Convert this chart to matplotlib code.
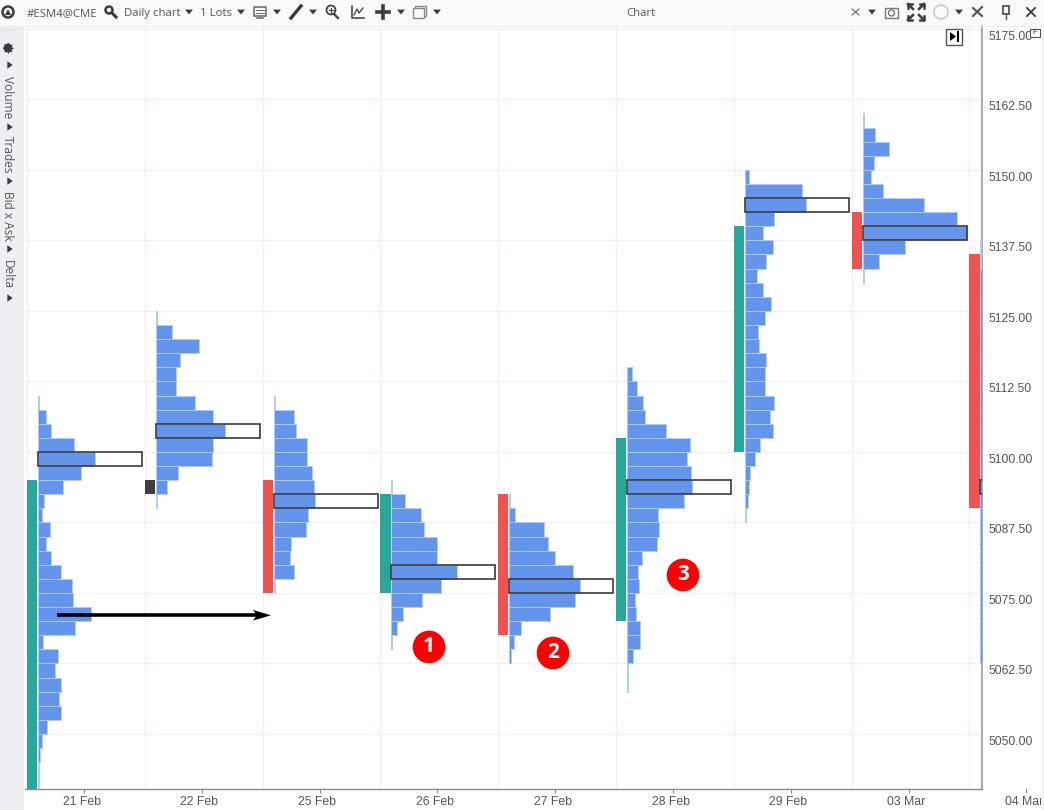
import matplotlib
matplotlib.use("Agg")
import matplotlib.pyplot as plt
from matplotlib.patches import Rectangle, Circle, Polygon
from matplotlib.transforms import Affine2D

plt.rcParams['font.family'] = ['Liberation Sans', 'DejaVu Sans']

day_labels = ["21 Feb", "22 Feb", "25 Feb", "26 Feb", "27 Feb", "28 Feb", "29 Feb", "03 Mar"]
last_label = "04 Mar"
opens = [5035, 5092.5, 5095, 5075, 5092.5, 5070, 5100, 5142.5, 5135]
closes = [5095, 5095, 5075, 5092.5, 5067.5, 5102.5, 5140, 5132.5, 5090]
price_ticks = [5050, 5062.5, 5075, 5087.5, 5100, 5112.5, 5125, 5137.5, 5150, 5162.5, 5175]

profile_tops = [5110, 5125, 5110, 5095, 5092.5, 5115, 5150, 5160, 5137.5]
poc_prices = [5097.5, 5102.5, 5090, 5077.5, 5075, 5092.5, 5142.5, 5137.5, 5092.5]

vol_21feb = [1, 8, 13, 36, 57, 43, 25, 6, 4, 12, 8, 13, 23, 34, 35, 53, 37, 5, 20, 17, 23, 21, 23, 9, 4, 1.5, 1, 1]
vol_22feb = [1, 16, 43, 24, 20, 20, 39, 57, 69, 57, 56, 22, 11, 1]
vol_25feb = [1, 20, 22, 33, 33, 38, 40, 41, 34, 32, 17, 16, 20, 1]
vol_26feb = [1, 14, 30, 33, 46, 46, 66, 50, 31, 12, 6, 1]
vol_27feb = [1, 6, 35, 39, 46, 64, 71, 66, 41, 12, 5, 1.5]
vol_28feb = [5, 10, 16, 18, 39, 63, 60, 64, 65, 57, 31, 32, 30, 15, 11, 12, 8, 9, 13, 13, 6, 1, 1]
vol_29feb = [4, 57, 61, 29, 18, 28, 21, 12, 18, 26, 20, 13, 14, 21, 20, 20, 29, 25, 28, 15, 10, 5, 4, 3, 1]
vol_03mar = [1, 12, 26, 11, 8, 20, 61, 94, 104, 42, 16, 1]
# 04 Mar is cut off by the price axis, only the first pixels are visible
vol_04mar = [1, 1, 20, 20, 30, 35, 45, 50, 70, 60, 40, 35, 30, 30, 25, 20, 20, 20, 15, 15, 10, 10, 8, 8, 5, 5, 3, 3, 3, 3]
profiles = [vol_21feb, vol_22feb, vol_25feb, vol_26feb, vol_27feb, vol_28feb, vol_29feb, vol_03mar, vol_04mar]

UP = "#2aa79b"
DOWN = "#ef5350"
DOJI = "#3d3d3b"
BLUE = "#6495ed"
EDGE = "#b3ccf6"
GRID = "#f6eef1"
TXT = "#555555"
ICON = "#3c3c3c"
TICK_SIZE = 2.5
DAY_PX = 117.8
BOX = 104
W, H = 1044, 810

fig = plt.figure(figsize=(W / 100, H / 100), dpi=100, facecolor="white")

# chart area
ax = fig.add_axes([25 / W, 1 - 789 / H, (982 - 25) / W, (789 - 26) / H])
for s in ["top", "left"]:
    ax.spines[s].set_visible(False)
ax.spines["right"].set_color("#a9a9b2")
ax.spines["right"].set_linewidth(1.5)
ax.spines["bottom"].set_color("#8c8c92")
ax.spines["bottom"].set_linewidth(1)

ax.set_yticks(price_ticks)
ax.set_yticklabels(["%.2f" % p for p in price_ticks], va="top", fontsize=8.8, color=TXT)
ax.yaxis.tick_right()
ax.tick_params(axis="y", length=0, pad=5)
for lab in ax.get_yticklabels():
    lab.set_transform(lab.get_transform() + Affine2D().translate(0, -2))
ax.set_xticks([i + 0.484 for i in range(len(day_labels))])
ax.set_xticklabels(day_labels, fontsize=8.8, color=TXT)
ax.tick_params(axis="x", length=3, color="#888888", pad=2)
for lab in ax.get_xticklabels():
    lab.set_transform(lab.get_transform() + Affine2D().translate(-2.5, 0))
ax.set_xlim(-2 / DAY_PX, 955 / DAY_PX)
ax.set_ylim(5040.25, 5175.5)
for i in range(len(profiles)):
    ax.axvline(i, color=GRID, lw=1, zorder=0)
for p in price_ticks:
    ax.axhline(p, color=GRID, lw=1, zorder=0)

# 04 Mar tick hangs past the axis end on the right
x_last = len(day_labels) + 0.484
ax.plot([x_last, x_last], [0, -3 / 763], transform=ax.get_xaxis_transform(), color="#888888", lw=0.8, clip_on=False)
ax.text(x_last - 0.02, -13 / 763, last_label, transform=ax.get_xaxis_transform(), fontsize=8.8, color=TXT,
        ha="center", va="center", clip_on=False)
ax.set_xlim(-2 / DAY_PX, 955 / DAY_PX)

for i, vols in enumerate(profiles):
    # candle body
    o, c = opens[i], closes[i]
    col = DOJI if i == 1 else (UP if c > o else DOWN)
    ax.add_patch(Rectangle((i, min(o, c)), 10.3 / DAY_PX, abs(c - o), fc=col, ec="none", zorder=2))

    # volume profile next to it
    x0 = i + 11 / DAY_PX
    bottoms = [profile_tops[i] - TICK_SIZE * (k + 1) for k in range(len(vols))]
    ax.barh(poc_prices[i], BOX / DAY_PX, TICK_SIZE, left=x0, align="edge", color="white", zorder=3)
    ax.barh(bottoms, [v / DAY_PX for v in vols], TICK_SIZE, left=x0, align="edge",
            color=BLUE, edgecolor=EDGE, linewidth=0.6, zorder=4)
    ax.barh(poc_prices[i], BOX / DAY_PX, TICK_SIZE, left=x0, align="edge", fill=False,
            edgecolor="#3a3a3a", linewidth=1.2, zorder=5)

# window chrome, drawn in pixel coordinates on top
ov = fig.add_axes([0, 0, 1, 1], facecolor="none")
ov.set_xlim(0, W)
ov.set_ylim(H, 0)
ov.axis("off")
ov.add_patch(Rectangle((0, 0), W, 25, fc="#f9f9fb", ec="none"))
ov.plot([0, W], [25.5, 25.5], color="#efeff2", lw=1)
ov.add_patch(Rectangle((0, 26), 24, H - 26, fc="#eeeef3", ec="none"))
ov.add_patch(Rectangle((1041, 26), 3, H - 26, fc="#f4f4f7", ec="none"))

for x, s in [(27, "#ESM4@CME"), (124, "Daily chart"), (200, "1 Lots")]:
    ov.text(x, 16, s, fontsize=8.2, color=TXT, va="baseline", ha="left", family="Open Sans")
ov.text(641, 16, "Chart", fontsize=8.2, color=TXT, va="baseline", ha="center", family="Open Sans")


def tri(x, y, s=4, color=ICON, right=False):
    if right:
        pts = [(x - s * 0.7, y - s), (x - s * 0.7, y + s), (x + s * 0.7, y)]
    else:
        pts = [(x - s, y - s * 0.6), (x + s, y - s * 0.6), (x, y + s * 0.6)]
    ov.add_patch(Polygon(pts, fc=color, ec="none"))


for x in [189, 241, 277, 313, 401, 437, 872, 959]:
    tri(x, 12)

# left group of toolbar icons
ov.add_patch(Circle((8, 12), 5.5, fc="none", ec=ICON, lw=1.8))
ov.add_patch(Polygon([(5, 15), (8, 9), (11, 15)], fc=ICON, ec="none"))
ov.add_patch(Circle((109, 10), 3.5, fc="none", ec=ICON, lw=1.8))
ov.plot([112, 116], [13, 17], color=ICON, lw=2.2)
ov.add_patch(Rectangle((254, 7), 12, 9, fc="none", ec="#666666", lw=1.1))
ov.plot([256, 264], [10, 10], color="#666666", lw=0.7)
ov.plot([256, 264], [13, 13], color="#666666", lw=0.7)
ov.plot([257, 263], [18, 18], color="#666666", lw=1.1)
ov.plot([291, 301], [18, 6], color=ICON, lw=2.4)
ov.add_patch(Circle((331, 10), 4.5, fc="none", ec=ICON, lw=1.2))
ov.plot([328.5, 333.5], [10, 10], color=ICON, lw=0.8)
ov.plot([331, 331], [7.5, 12.5], color=ICON, lw=0.8)
ov.plot([334, 338], [14, 18], color=ICON, lw=1.6)
ov.plot([352, 352, 364], [6, 18, 18], color=ICON, lw=1.1)
ov.plot([354, 357, 359, 363], [15, 9, 13, 8], color=ICON, lw=0.9)
ov.plot([377, 389], [12, 12], color=ICON, lw=2.6)
ov.plot([383, 383], [6, 18], color=ICON, lw=2.6)
ov.add_patch(Rectangle((415, 6), 11, 10, fc="#f9f9fb", ec="#8a8a8a", lw=1))
ov.add_patch(Rectangle((413, 8), 11, 10, fc="#f9f9fb", ec="#8a8a8a", lw=1))

# right group of toolbar icons
ov.plot([852, 859], [9, 15], color="#777777", lw=0.9)
ov.plot([852, 859], [15, 9], color="#777777", lw=0.9)
ov.add_patch(Rectangle((885, 8), 13, 10, fc="none", ec="#777777", lw=1))
ov.add_patch(Circle((891.5, 13), 3, fc="none", ec="#777777", lw=1))
for sx, sy in [(-1, -1), (1, -1), (-1, 1), (1, 1)]:
    ov.plot([916 + sx * 3, 916 + sx * 8], [12 + sy * 3, 12 + sy * 8], color=ICON, lw=1.8)
    ov.plot([916 + sx * 8, 916 + sx * 8, 916 + sx * 4], [12 + sy * 4, 12 + sy * 8, 12 + sy * 8], color=ICON, lw=1.8)
ov.add_patch(Circle((941, 12), 7, fc="#fbfbfb", ec="#c4c4c4", lw=1))
ov.plot([973, 982], [16, 7], color="#555555", lw=1.5)
ov.plot([973, 982], [8, 16], color="#555555", lw=1.5)
ov.add_patch(Rectangle((1003, 6), 6, 8, fc="none", ec="#555555", lw=1.3))
ov.plot([1006, 1006], [14, 19], color="#555555", lw=1)
ov.plot([1027, 1035], [8, 16], color=ICON, lw=1.3)
ov.plot([1027, 1035], [16, 8], color=ICON, lw=1.3)

# skip button and F box in the chart corner
ov.add_patch(Rectangle((946, 28.5), 16, 16, fc="white", ec="#555555", lw=1))
ov.add_patch(Polygon([(950, 32), (950, 41), (956, 36.5)], fc="black", ec="none"))
ov.plot([957.5, 957.5], [32, 41], color="black", lw=1.5)
ov.add_patch(Rectangle((1030, 28.5), 9.5, 8.5, fc="white", ec="#555555", lw=0.8))
ov.text(1034.8, 32.8, "F", fontsize=5.5, color="#333333", ha="center", va="center")

# side panel
ov.plot([8], [48], marker=(8, 1, 0), ms=8.5, color=ICON, mew=0)
ov.add_patch(Circle((8, 48), 4.5, fc=ICON, ec="none"))
ov.add_patch(Circle((8, 48), 2, fc="#eeeef3", ec="none"))
for x in range(3, 20, 3):
    ov.plot([x, x], [29, 31], color="#a5a5a5", lw=0.6, ls=":")
for y in [65, 127, 181, 249, 298]:
    tri(10, y, s=3.8, right=True)
for y, s in [(97, "Volume"), (155, "Trades"), (216, "Bid x Ask"), (275, "Delta")]:
    ov.text(7.5, y, s, rotation=270, fontsize=8.6, color=TXT, ha="center", va="center", family="Open Sans")

# arrow and numbered markers added on the chart
ov.plot([57, 258], [615.3, 615.3], color="black", lw=2.6, solid_capstyle="butt")
ov.add_patch(Polygon([(271, 615.3), (253, 610), (257, 615.3), (253, 620.6)], fc="black", ec="none"))
for x, y, s in [(429, 647, "1"), (553, 653, "2"), (683, 575, "3")]:
    ov.add_patch(Circle((x, y), 16.3, fc="#ff0000", ec="none"))
    ov.text(x, y, s, fontsize=15, color="white", weight="bold", ha="center", va="center", family="Open Sans")

fig.savefig("out.png", dpi=100)
